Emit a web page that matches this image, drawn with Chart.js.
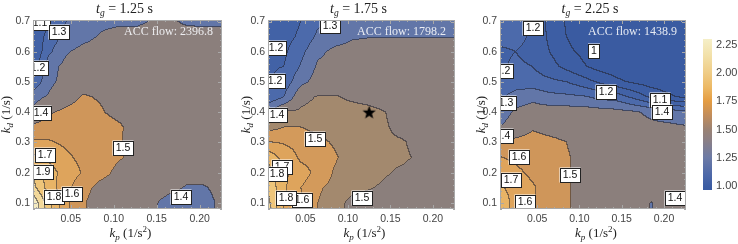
<!DOCTYPE html>
<html>
<head>
<meta charset="utf-8">
<title>ACC cost contours</title>
<script src="https://cdn.jsdelivr.net/npm/chart.js@4.4.1/dist/chart.umd.min.js"></script>
<style>
  body { margin: 0; background: #fff; }
  #wrap { position: relative; width: 738px; height: 244px; overflow: hidden; }
  .pane { position: absolute; top: 0; height: 244px; }
</style>
</head>
<body>
<div id="wrap">
  <div class="pane" style="left:0;width:235px"><canvas id="p1" width="235" height="244"></canvas></div>
  <div class="pane" style="left:235px;width:235px"><canvas id="p2" width="235" height="244"></canvas></div>
  <div class="pane" style="left:470px;width:220px"><canvas id="p3" width="220" height="244"></canvas></div>
  <div class="pane" style="left:690px;width:48px"><canvas id="cb" width="48" height="244"></canvas></div>
</div>
<script>
'use strict'

// grid nodes: kp along each row, rows go from kd = 0.1 up to kd = 0.7
const kpNodes = [0.005, 0.025, 0.045, 0.065, 0.085, 0.105, 0.125, 0.145, 0.165, 0.185, 0.205, 0.225]
const kdNodes = [0.10, 0.15, 0.20, 0.25, 0.30, 0.35, 0.40, 0.45, 0.50, 0.55, 0.60, 0.65, 0.70]

// cost values (tg = 1.25 s, 1.75 s, 2.25 s)
const cost125 = [
  [2.10, 1.84, 1.62, 1.51, 1.45, 1.45, 1.45, 1.42, 1.36, 1.36, 1.36, 1.42],
  [1.95, 1.75, 1.63, 1.53, 1.47, 1.46, 1.45, 1.45, 1.43, 1.39, 1.39, 1.43],
  [1.90, 1.74, 1.66, 1.59, 1.53, 1.48, 1.45, 1.45, 1.45, 1.45, 1.45, 1.45],
  [1.72, 1.68, 1.62, 1.57, 1.54, 1.51, 1.48, 1.45, 1.45, 1.45, 1.45, 1.45],
  [1.62, 1.61, 1.58, 1.56, 1.54, 1.51, 1.47, 1.45, 1.45, 1.45, 1.45, 1.45],
  [1.52, 1.54, 1.55, 1.55, 1.54, 1.52, 1.46, 1.45, 1.45, 1.45, 1.45, 1.45],
  [1.41, 1.49, 1.52, 1.54, 1.51, 1.47, 1.45, 1.45, 1.45, 1.45, 1.45, 1.45],
  [1.37, 1.41, 1.46, 1.51, 1.49, 1.46, 1.45, 1.45, 1.45, 1.45, 1.45, 1.45],
  [1.20, 1.38, 1.43, 1.45, 1.45, 1.45, 1.45, 1.45, 1.45, 1.45, 1.45, 1.45],
  [1.12, 1.36, 1.43, 1.44, 1.45, 1.45, 1.45, 1.45, 1.45, 1.45, 1.45, 1.45],
  [1.08, 1.28, 1.39, 1.43, 1.44, 1.45, 1.45, 1.45, 1.45, 1.45, 1.45, 1.45],
  [1.10, 1.24, 1.33, 1.37, 1.41, 1.45, 1.45, 1.45, 1.45, 1.45, 1.45, 1.45],
  [1.06, 1.20, 1.30, 1.35, 1.37, 1.37, 1.37, 1.41, 1.42, 1.38, 1.37, 1.37]
]
const cost175 = [
  [1.95, 1.70, 1.61, 1.55, 1.53, 1.48, 1.47, 1.47, 1.47, 1.47, 1.47, 1.47],
  [1.90, 1.72, 1.60, 1.555, 1.54, 1.52, 1.505, 1.49, 1.47, 1.47, 1.47, 1.47],
  [1.85, 1.73, 1.63, 1.58, 1.545, 1.53, 1.52, 1.505, 1.49, 1.47, 1.47, 1.47],
  [1.78, 1.66, 1.585, 1.57, 1.555, 1.53, 1.52, 1.51, 1.51, 1.49, 1.47, 1.47],
  [1.605, 1.59, 1.57, 1.56, 1.545, 1.53, 1.52, 1.51, 1.505, 1.48, 1.47, 1.47],
  [1.53, 1.55, 1.55, 1.54, 1.53, 1.52, 1.52, 1.505, 1.48, 1.47, 1.47, 1.47],
  [1.40, 1.51, 1.51, 1.52, 1.52, 1.52, 1.515, 1.50, 1.47, 1.46, 1.46, 1.46],
  [1.21, 1.30, 1.48, 1.505, 1.505, 1.49, 1.48, 1.47, 1.46, 1.46, 1.46, 1.46],
  [1.18, 1.24, 1.37, 1.44, 1.45, 1.46, 1.46, 1.46, 1.46, 1.46, 1.46, 1.46],
  [1.19, 1.20, 1.31, 1.415, 1.43, 1.44, 1.45, 1.45, 1.45, 1.45, 1.45, 1.45],
  [1.14, 1.18, 1.27, 1.38, 1.42, 1.43, 1.44, 1.45, 1.45, 1.45, 1.45, 1.45],
  [1.12, 1.16, 1.22, 1.32, 1.36, 1.39, 1.395, 1.395, 1.395, 1.395, 1.395, 1.395],
  [1.10, 1.14, 1.20, 1.28, 1.33, 1.35, 1.36, 1.36, 1.36, 1.36, 1.36, 1.36]
]
const cost225 = [
  [1.78, 1.66, 1.61, 1.56, 1.51, 1.47, 1.46, 1.45, 1.43, 1.398, 1.42, 1.45],
  [1.72, 1.66, 1.61, 1.56, 1.51, 1.47, 1.46, 1.46, 1.45, 1.45, 1.45, 1.46],
  [1.66, 1.62, 1.58, 1.55, 1.51, 1.47, 1.46, 1.46, 1.46, 1.46, 1.46, 1.46],
  [1.605, 1.58, 1.56, 1.54, 1.51, 1.47, 1.46, 1.46, 1.46, 1.45, 1.45, 1.45],
  [1.49, 1.52, 1.53, 1.52, 1.50, 1.46, 1.46, 1.46, 1.45, 1.44, 1.43, 1.43],
  [1.40, 1.45, 1.49, 1.47, 1.46, 1.46, 1.46, 1.45, 1.44, 1.42, 1.42, 1.41],
  [1.34, 1.42, 1.45, 1.45, 1.45, 1.45, 1.44, 1.43, 1.41, 1.38, 1.35, 1.32],
  [1.28, 1.34, 1.37, 1.33, 1.32, 1.31, 1.27, 1.25, 1.17, 1.08, 1.02, 0.98],
  [1.23, 1.25, 1.24, 1.22, 1.20, 1.14, 1.08, 1.02, 0.98, 0.95, 0.93, 0.92],
  [1.19, 1.21, 1.20, 1.14, 1.07, 1.01, 0.96, 0.94, 0.93, 0.92, 0.91, 0.91],
  [1.19, 1.20, 1.18, 1.10, 1.02, 0.98, 0.94, 0.93, 0.92, 0.91, 0.91, 0.90],
  [1.22, 1.22, 1.19, 1.08, 1.00, 0.95, 0.93, 0.92, 0.91, 0.91, 0.90, 0.90],
  [1.26, 1.23, 1.20, 1.07, 0.99, 0.95, 0.93, 0.92, 0.91, 0.90, 0.90, 0.90]
]

// contour levels of each panel
const levels125 = [1.1, 1.2, 1.3, 1.4, 1.5, 1.6, 1.7, 1.8, 1.9, 2.0]
const levels175 = [1.1, 1.2, 1.3, 1.4, 1.5, 1.55, 1.6, 1.7, 1.8, 1.9]
const levels225 = [1.0, 1.1, 1.2, 1.3, 1.4, 1.5, 1.6, 1.7, 1.8]

// contour labels: text, kp, kd
const labels125 = [
  ['1.1', 0.014, 0.694], ['1.3', 0.036, 0.664], ['1.2', 0.012, 0.545], ['1.4', 0.0155, 0.396],
  ['1.7', 0.020, 0.257], ['1.9', 0.018, 0.204], ['1.8', 0.0305, 0.121], ['1.6', 0.051, 0.128],
  ['1.5', 0.111, 0.283], ['1.4', 0.178, 0.121]
]
const labels175 = [
  ['1.3', 0.079, 0.685], ['1.2', 0.0157, 0.614], ['1.2', 0.0148, 0.503], ['1.4', 0.0171, 0.391],
  ['1.5', 0.0618, 0.311], ['1.7', 0.0227, 0.220], ['1.8', 0.0168, 0.196], ['1.6', 0.046, 0.110],
  ['1.8', 0.0275, 0.118], ['1.5', 0.1165, 0.115]
]
const labels225 = [
  ['1.2', 0.0454, 0.680], ['1', 0.117, 0.603], ['1.2', 0.009, 0.537], ['1.2', 0.131, 0.468],
  ['1.1', 0.195, 0.440], ['1.4', 0.198, 0.402], ['1.3', 0.013, 0.430], ['1.4', 0.010, 0.322],
  ['1.6', 0.0287, 0.253], ['1.5', 0.0888, 0.192], ['1.7', 0.0188, 0.176], ['1.6', 0.0356, 0.104],
  ['1.4', 0.213, 0.115]
]

const gapTimes = ['1.25', '1.75', '2.25']
const accFlow = ['2396.8', '1798.2', '1438.9']
const optimum175 = [{ x: 0.125, y: 0.40 }]

const kpTicks = [0.05, 0.10, 0.15, 0.20]
const kdTicks = [0.1, 0.2, 0.3, 0.4, 0.5, 0.6, 0.7]
const barTicks = [1.00, 1.25, 1.50, 1.75, 2.00, 2.25]

// colours
const bandStops = [
  [0.90, '#39599f'], [1.05, '#3d5ea4'], [1.15, '#4262a6'], [1.25, '#4c6aab'], [1.35, '#6276a8'],
  [1.45, '#8b7f7c'], [1.525, '#a3896e'], [1.55, '#cf965a'], [1.65, '#dea45c'], [1.75, '#e8b466'],
  [1.85, '#eec57a'], [1.95, '#f2d89a'], [2.05, '#f5ebc0'], [2.30, '#f8f3d4']
]
const barStops = [
  [0.965, '#3a5ba2'], [1.0, '#3c5da3'], [1.1, '#4d68a8'], [1.25, '#6c7aa6'], [1.4, '#8a7f86'],
  [1.5, '#9a8274'], [1.62, '#c08c5c'], [1.75, '#e49c42'], [1.87, '#ecb864'], [2.0, '#efcc86'],
  [2.15, '#f2e0a8'], [2.30, '#f5efc8']
]
const lineRGB = [35, 35, 45]
const tickFont = { family: 'Liberation Sans', size: 10.5 }
const serif = '"Liberation Serif", serif'

function hexRGB(h) {
  return [parseInt(h.slice(1, 3), 16), parseInt(h.slice(3, 5), 16), parseInt(h.slice(5, 7), 16)]
}
function lookup(stops, v) {
  if (v <= stops[0][0]) return hexRGB(stops[0][1])
  for (let k = 1; k < stops.length; k++) {
    if (v <= stops[k][0]) {
      const t = (v - stops[k - 1][0]) / (stops[k][0] - stops[k - 1][0])
      const a = hexRGB(stops[k - 1][1]), b = hexRGB(stops[k][1])
      return a.map((c, n) => Math.round(c + (b[n] - c) * t))
    }
  }
  return hexRGB(stops[stops.length - 1][1])
}
function sample(grid, kp, kd) {
  const n = kpNodes.length, m = kdNodes.length
  let fi = (kp - kpNodes[0]) / (kpNodes[1] - kpNodes[0])
  let fj = (kd - kdNodes[0]) / (kdNodes[1] - kdNodes[0])
  fi = Math.min(Math.max(fi, 0), n - 1.0001)
  fj = Math.min(Math.max(fj, 0), m - 1.0001)
  const i = Math.floor(fi), j = Math.floor(fj), u = fi - i, v = fj - j
  return grid[j][i] * (1 - u) * (1 - v) + grid[j][i + 1] * u * (1 - v) +
    grid[j + 1][i] * (1 - u) * v + grid[j + 1][i + 1] * u * v
}
function bandOf(levels, v) {
  let b = 0
  while (b < levels.length && v >= levels[b]) b++
  return b
}

// filled contour bands and their lines, computed pixel by pixel through the scales
function fieldPlugin(grid, levels) {
  const L = levels.length
  const colors = []
  for (let b = 0; b <= L; b++) {
    const mid = b === 0 ? levels[0] - 0.05 : b === L ? levels[L - 1] + 0.05 : (levels[b - 1] + levels[b]) / 2
    colors.push(lookup(bandStops, mid))
  }
  return {
    id: 'field',
    beforeDatasetsDraw(chart) {
      const { ctx, chartArea: a, scales } = chart
      const x0 = Math.round(a.left), y0 = Math.round(a.top)
      const w = Math.round(a.right) - x0, h = Math.round(a.bottom) - y0
      const kps = [], kds = []
      for (let i = 0; i < w; i++) kps.push(scales.x.getValueForPixel(x0 + i + 0.5))
      for (let j = 0; j < h; j++) kds.push(scales.y.getValueForPixel(y0 + j + 0.5))
      const band = new Int16Array(w * h)
      for (let j = 0; j < h; j++)
        for (let i = 0; i < w; i++) band[j * w + i] = bandOf(levels, sample(grid, kps[i], kds[j]))
      const img = ctx.createImageData(w, h)
      for (let j = 0; j < h; j++) {
        for (let i = 0; i < w; i++) {
          const k = j * w + i, b = band[k]
          let c = colors[b]
          const edge = (i < w - 1 && band[k + 1] !== b) || (j < h - 1 && band[k + w] !== b)
          if (edge) c = c.map((v, n) => Math.round(v * 0.45 + lineRGB[n] * 0.55))
          img.data[4 * k] = c[0]; img.data[4 * k + 1] = c[1]; img.data[4 * k + 2] = c[2]; img.data[4 * k + 3] = 255
        }
      }
      ctx.putImageData(img, x0, y0)
    }
  }
}

// frame with inward ticks, contour labels, titles
function decorPlugin(labels, tg, flow, yTitleX) {
  return {
    id: 'decor',
    afterDatasetsDraw(chart) {
      const { ctx, chartArea: a, scales: { x, y } } = chart
      ctx.save()
      ctx.strokeStyle = '#a8a8a8'
      ctx.lineWidth = 1
      ctx.strokeRect(a.left + 0.5, a.top + 0.5, a.right - a.left - 1, a.bottom - a.top - 1)
      ctx.beginPath()
      for (let t = 1; t <= 22; t++) {
        const px = Math.round(x.getPixelForValue(t / 100)) + 0.5
        const len = t % 5 === 0 ? 4 : 2
        ctx.moveTo(px, a.bottom); ctx.lineTo(px, a.bottom - len)
        ctx.moveTo(px, a.top); ctx.lineTo(px, a.top + len)
      }
      for (let t = 4; t <= 35; t++) {
        const py = Math.round(y.getPixelForValue(t / 50)) + 0.5
        const len = t % 5 === 0 ? 4 : 2
        ctx.moveTo(a.left, py); ctx.lineTo(a.left + len, py)
        ctx.moveTo(a.right, py); ctx.lineTo(a.right - len, py)
      }
      ctx.stroke()

      // contour labels
      ctx.beginPath()
      ctx.rect(a.left + 1, a.top + 1, a.right - a.left - 2, a.bottom - a.top - 2)
      ctx.clip()
      ctx.font = '10.5px "Liberation Sans"'
      ctx.textAlign = 'center'
      ctx.textBaseline = 'middle'
      labels.forEach(([txt, kp, kd]) => {
        const cx = Math.round(x.getPixelForValue(kp)), cy = Math.round(y.getPixelForValue(kd))
        const bw = Math.round(ctx.measureText(txt).width) + 6, bh = 15
        ctx.fillStyle = '#ffffff'
        ctx.fillRect(cx - bw / 2, cy - bh / 2, bw, bh)
        ctx.strokeStyle = '#222'
        ctx.strokeRect(Math.round(cx - bw / 2) + 0.5, Math.round(cy - bh / 2) + 0.5, bw - 1, bh - 1)
        ctx.fillStyle = '#111'
        ctx.fillText(txt, cx, cy + 0.5)
      })

      // flow annotation
      ctx.font = '12px ' + serif
      ctx.textAlign = 'right'
      ctx.textBaseline = 'alphabetic'
      ctx.fillStyle = 'rgba(245,246,250,0.92)'
      ctx.fillText('ACC flow: ' + flow, a.right - 9, a.top + 15)
      ctx.restore()

      ctx.save()
      ctx.fillStyle = '#222'
      ctx.textBaseline = 'alphabetic'
      const cx = (a.left + a.right) / 2
      drawParts(ctx, [['t', 'italic 14px ' + serif, 0], ['g', 'italic 9.5px ' + serif, 3], [' = ' + tg + ' s', '14px ' + serif, 0]], cx - 3, 13)
      drawParts(ctx, [['k', 'italic 13px ' + serif, 0], ['p', 'italic 9px ' + serif, 3], [' (1/s', '13px ' + serif, 0], ['2', '9px ' + serif, -5], [')', '13px ' + serif, 0]], cx + 3, 237)
      ctx.translate(yTitleX, (a.top + a.bottom) / 2)
      ctx.rotate(-Math.PI / 2)
      drawParts(ctx, [['k', 'italic 13px ' + serif, 0], ['d', 'italic 9px ' + serif, 3], [' (1/s)', '13px ' + serif, 0]], 0, 4)
      ctx.restore()
    }
  }
}
function drawParts(ctx, parts, cx, base) {
  let total = 0
  parts.forEach(p => { ctx.font = p[1]; total += ctx.measureText(p[0]).width })
  let px = cx - total / 2
  ctx.textAlign = 'left'
  parts.forEach(p => {
    ctx.font = p[1]
    ctx.fillText(p[0], px, base + p[2])
    px += ctx.measureText(p[0]).width
  })
}

function starImage() {
  const c = document.createElement('canvas')
  c.width = 15; c.height = 15
  const g = c.getContext('2d')
  g.beginPath()
  for (let k = 0; k < 10; k++) {
    const r = k % 2 === 0 ? 7 : 2.9
    const ang = -Math.PI / 2 + k * Math.PI / 5
    const px = 7.5 + r * Math.cos(ang), py = 8 + r * Math.sin(ang)
    k === 0 ? g.moveTo(px, py) : g.lineTo(px, py)
  }
  g.closePath()
  g.fillStyle = '#000'
  g.fill()
  return c
}

function panel(id, grid, levels, labels, tg, flow, opt) {
  const datasets = opt.points ? [{
    data: opt.points,
    pointStyle: starImage(),
    pointRadius: 7,
    pointHoverRadius: 7
  }] : []
  return new Chart(document.getElementById(id), {
    type: 'scatter',
    data: { datasets },
    options: {
      responsive: false,
      animation: false,
      layout: { padding: { left: 0, right: opt.padRight, top: 20, bottom: 0 } },
      plugins: { legend: { display: false }, tooltip: { enabled: false } },
      scales: {
        x: {
          type: 'linear', min: 0.006, max: 0.226,
          afterBuildTicks: s => { s.ticks = kpTicks.map(v => ({ value: v })) },
          afterFit: s => { s.height = 35 },
          grid: { display: false, drawTicks: false },
          border: { display: false },
          ticks: { font: tickFont, color: '#444', padding: 4, maxRotation: 0, callback: v => v.toFixed(2) }
        },
        y: {
          type: 'linear', min: 0.08, max: 0.705,
          afterBuildTicks: s => { s.ticks = kdTicks.map(v => ({ value: v })) },
          afterFit: s => { s.width = opt.yWidth },
          grid: { display: false, drawTicks: false },
          border: { display: false },
          ticks: { font: tickFont, color: '#444', padding: 3, callback: v => v.toFixed(1) }
        }
      }
    },
    plugins: [fieldPlugin(grid, levels), decorPlugin(labels, tg, flow, opt.yTitleX)]
  })
}

panel('p1', cost125, levels125, labels125, gapTimes[0], accFlow[0], { padRight: 13, yWidth: 33, yTitleX: 6 })
panel('p2', cost175, levels175, labels175, gapTimes[1], accFlow[1], { padRight: 15, yWidth: 33, yTitleX: 11, points: optimum175 })
panel('p3', cost225, levels225, labels225, gapTimes[2], accFlow[2], { padRight: 4, yWidth: 30, yTitleX: 11 })

// colour bar legend
const barPlugin = {
  id: 'bar',
  beforeDatasetsDraw(chart) {
    const { ctx, chartArea: a, scales: { y } } = chart
    const g = ctx.createLinearGradient(0, y.getPixelForValue(y.min), 0, y.getPixelForValue(y.max))
    barStops.forEach(([v, c]) => g.addColorStop((v - y.min) / (y.max - y.min), c))
    ctx.fillStyle = g
    ctx.fillRect(a.left, a.top, a.right - a.left, a.bottom - a.top)
  }
}
new Chart(document.getElementById('cb'), {
  type: 'scatter',
  data: { datasets: [] },
  options: {
    responsive: false,
    animation: false,
    layout: { padding: { left: 13, right: 0, top: 39, bottom: 54 } },
    plugins: { legend: { display: false }, tooltip: { enabled: false } },
    scales: {
      x: { display: false, min: 0, max: 1 },
      y: {
        position: 'right', min: 0.965, max: 2.30,
        afterBuildTicks: s => { s.ticks = barTicks.map(v => ({ value: v })) },
        afterFit: s => { s.width = 26 },
        grid: { display: false, drawTicks: false },
        border: { display: false },
        ticks: { font: { family: 'Liberation Sans', size: 11 }, color: '#444', padding: 4, callback: v => v.toFixed(2) }
      }
    }
  },
  plugins: [barPlugin]
})
</script>
</body>
</html>
